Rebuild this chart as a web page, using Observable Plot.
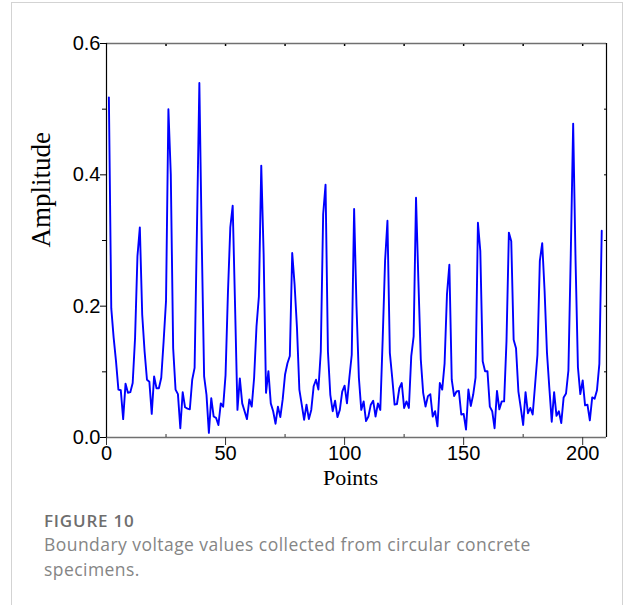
<!DOCTYPE html>
<html>
<head>
<meta charset="utf-8">
<script src="https://cdn.jsdelivr.net/npm/d3@7"></script>
<script src="https://cdn.jsdelivr.net/npm/@observablehq/plot@0.6"></script>
<style>
  html, body { margin: 0; padding: 0; background: #fff; }
  body { width: 624px; height: 605px; position: relative; overflow: hidden; }
  #card { position: absolute; left: 11px; top: 2px; width: 612px; height: 660px; border: 1px solid #d3d3d3; box-sizing: border-box; }
  #chart { position: absolute; left: 0; top: 0; }
  #fig { position: absolute; left: 44px; top: 509px; font-family: "Open Sans", sans-serif; font-weight: 600; font-size: 17px; letter-spacing: 0.8px; line-height: 24px; color: #6e6e6e; }
  #cap { position: absolute; left: 44px; top: 532px; width: 530px; font-family: "Open Sans", sans-serif; font-size: 17.5px; letter-spacing: 0.45px; line-height: 24.5px; color: #858585; }
</style>
</head>
<body>
<div id="card"></div>
<div id="chart"></div>
<div id="fig"></div>
<div id="cap"></div>
<script>
// ---- data ----
const amplitude = [
  0.518, 0.197, 0.152, 0.116, 0.073, 0.072, 0.028, 0.082, 0.068, 0.069,
  0.083, 0.152, 0.276, 0.320, 0.187, 0.131, 0.088, 0.085, 0.036, 0.093,
  0.075, 0.075, 0.091, 0.147, 0.208, 0.500, 0.401, 0.136, 0.073, 0.066,
  0.014, 0.069, 0.046, 0.044, 0.043, 0.088, 0.106, 0.320, 0.540, 0.300,
  0.093, 0.065, 0.007, 0.060, 0.032, 0.030, 0.019, 0.052, 0.047, 0.095,
  0.220, 0.320, 0.353, 0.200, 0.042, 0.090, 0.052, 0.040, 0.028, 0.058,
  0.047, 0.091, 0.169, 0.215, 0.414, 0.279, 0.068, 0.101, 0.052, 0.040,
  0.021, 0.047, 0.031, 0.058, 0.096, 0.113, 0.124, 0.281, 0.233, 0.167,
  0.073, 0.050, 0.027, 0.050, 0.028, 0.042, 0.078, 0.088, 0.073, 0.131,
  0.340, 0.385, 0.131, 0.065, 0.040, 0.056, 0.031, 0.042, 0.070, 0.079,
  0.052, 0.091, 0.126, 0.348, 0.200, 0.091, 0.042, 0.055, 0.025, 0.032,
  0.050, 0.056, 0.032, 0.052, 0.042, 0.150, 0.269, 0.330, 0.129, 0.091,
  0.050, 0.051, 0.075, 0.083, 0.045, 0.055, 0.045, 0.124, 0.154, 0.365,
  0.238, 0.119, 0.068, 0.047, 0.063, 0.066, 0.032, 0.040, 0.017, 0.083,
  0.073, 0.113, 0.218, 0.263, 0.088, 0.063, 0.070, 0.071, 0.035, 0.036,
  0.012, 0.073, 0.048, 0.065, 0.091, 0.327, 0.284, 0.116, 0.101, 0.101,
  0.047, 0.040, 0.014, 0.071, 0.043, 0.055, 0.055, 0.147, 0.312, 0.299,
  0.149, 0.136, 0.070, 0.045, 0.019, 0.069, 0.037, 0.045, 0.035, 0.080,
  0.126, 0.269, 0.296, 0.223, 0.129, 0.075, 0.024, 0.069, 0.033, 0.040,
  0.022, 0.061, 0.067, 0.102, 0.280, 0.478, 0.270, 0.107, 0.066, 0.087,
  0.049, 0.050, 0.026, 0.061, 0.059, 0.072, 0.112, 0.315
];
const xDomain = [0, 210];
const yDomain = [0, 0.6];
const xTicks = [0, 50, 100, 150, 200];
const xMinorTicks = [25, 75, 125, 175];
const topTicks = [25, 50, 75, 100, 125, 150, 175, 200];
const yTicks = [0, 0.2, 0.4, 0.6];
const yMinorTicks = [0.1, 0.3, 0.5];
const rightTicks = [0.1, 0.2, 0.3, 0.4, 0.5];
const xTitle = "Points";
const yTitle = "Amplitude";
const figLabel = "FIGURE 10";
const caption = "Boundary voltage values collected from circular concrete specimens.";

const points = amplitude.map((a, i) => ({point: i + 1, amplitude: a}));
const none = () => "";

const chart = Plot.plot({
  width: 624,
  height: 500,
  marginLeft: 106,
  marginRight: 18,
  marginTop: 43,
  marginBottom: 63,
  style: {fontFamily: "'Liberation Sans', Arial, sans-serif", fontSize: "20px", color: "#000", background: "transparent", overflow: "visible"},
  x: {domain: xDomain},
  y: {domain: yDomain},
  marks: [
    Plot.line(points, {x: "point", y: "amplitude", stroke: "#0000ff", strokeWidth: 1.9}),
    Plot.ruleY(yDomain, {stroke: "#707070", strokeWidth: 1.6}),
    Plot.ruleX(xDomain, {stroke: "#000", strokeWidth: 1.2}),
    Plot.axisX({ticks: xTicks, tickSize: 8, tickPadding: 0, tickFormat: "d", label: null, stroke: "#333"}),
    Plot.axisX({ticks: xMinorTicks, tickSize: 3, dy: -3, tickFormat: none, label: null, stroke: "#333"}),
    Plot.axisX({anchor: "top", ticks: topTicks, tickSize: 2, dy: 2, tickFormat: none, label: null, stroke: "#000", strokeWidth: 1.5}),
    Plot.axisY({ticks: yTicks, tickSize: 6, tickPadding: 0, tickFormat: ".1f", label: null, stroke: "#000"}),
    Plot.axisY({ticks: yMinorTicks, tickSize: 4, tickFormat: none, label: null, stroke: "#000"}),
    Plot.axisY({anchor: "right", ticks: rightTicks, tickSize: 3, dx: -3, tickFormat: none, label: null, stroke: "#000"}),
    Plot.text([xTitle], {frameAnchor: "bottom", lineAnchor: "bottom", dy: 47, dx: -6, fontFamily: "'Liberation Serif', 'Times New Roman', serif", fontSize: 22, fill: "#000"}),
    Plot.text([yTitle], {frameAnchor: "left", lineAnchor: "bottom", rotate: -90, dx: -57, dy: 7, fontFamily: "'Liberation Serif', 'Times New Roman', serif", fontSize: 27, fill: "#000"})
  ]
});
document.getElementById("chart").appendChild(chart);
document.getElementById("fig").textContent = figLabel;
document.getElementById("cap").textContent = caption;
</script>
</body>
</html>
